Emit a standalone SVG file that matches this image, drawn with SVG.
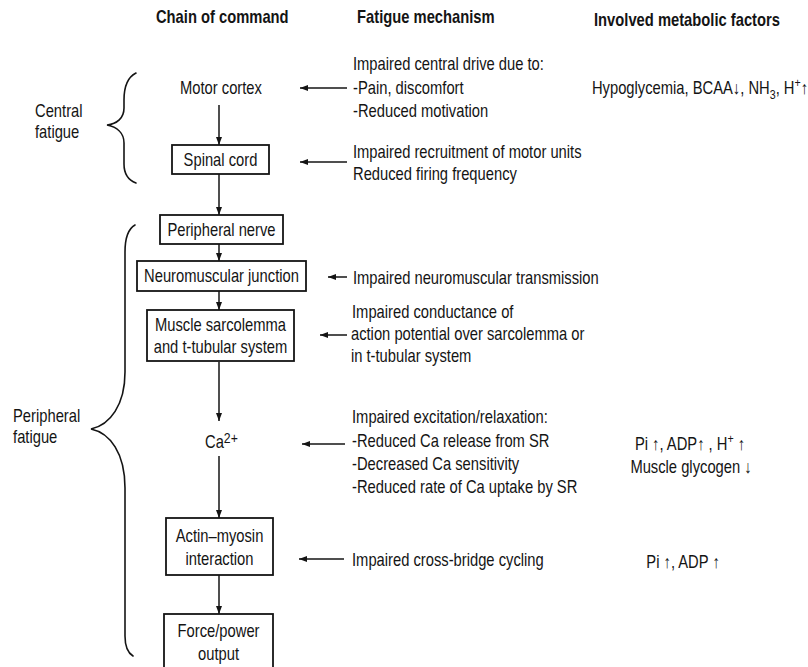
<svg xmlns="http://www.w3.org/2000/svg" width="808" height="667" viewBox="0 0 808 667">
<defs>
<style>
text{font-family:"Liberation Sans",Arial,Helvetica,sans-serif;font-size:18px;fill:#141414}
.h{font-weight:bold}
.m{text-anchor:middle}
.box{fill:#fff;stroke:#141414;stroke-width:1.8}
.ln{stroke:#141414;stroke-width:1.5;fill:none;marker-end:url(#ah)}
.br{fill:none;stroke:#141414;stroke-width:1.6;stroke-linecap:round}
</style>
<marker id="ah" markerUnits="userSpaceOnUse" markerWidth="9" markerHeight="7" refX="8" refY="3.5" orient="auto"><path d="M0,0.5 L8,3.5 L0,6.5 z" fill="#141414"/></marker>
</defs>
<rect width="808" height="667" fill="#fff"/>

<g id="headers">
<text class="h" transform="scale(0.82 1)" x="190.2" y="23">Chain of command</text>
<text class="h" transform="scale(0.82 1)" x="435.4" y="23">Fatigue mechanism</text>
<text class="h" transform="scale(0.82 1)" x="724.4" y="26">Involved metabolic factors</text>
</g>

<g id="connectors">
<line class="ln" x1="219" y1="105" x2="219" y2="145"/>
<line class="ln" x1="219" y1="174" x2="219" y2="215"/>
<line class="ln" x1="219" y1="244" x2="219" y2="261"/>
<line class="ln" x1="219" y1="291" x2="219" y2="310"/>
<line class="ln" x1="219" y1="362" x2="219" y2="421"/>
<line class="ln" x1="219" y1="456" x2="219" y2="518"/>
<line class="ln" x1="219" y1="575" x2="219" y2="614"/>
<line class="ln" x1="347" y1="88" x2="300" y2="88"/>
<line class="ln" x1="347" y1="162" x2="300" y2="162"/>
<line class="ln" x1="347" y1="277" x2="328" y2="277"/>
<line class="ln" x1="347" y1="335" x2="320" y2="335"/>
<line class="ln" x1="345" y1="444" x2="302" y2="444"/>
<line class="ln" x1="344" y1="559" x2="299" y2="559"/>
</g>

<g id="central-fatigue">
<path class="br" d="M136,73 C128,77 124,86 124,100 L124,108 C124,118 117,124 107,125 C117,127 124,133 124,143 L124,164 C124,174 128,180 136,183"/>
<text transform="scale(0.82 1)" x="42.7" y="117">Central</text>
<text transform="scale(0.82 1)" x="42.7" y="138">fatigue</text>
</g>

<g id="peripheral-fatigue">
<path class="br" d="M135,225 C128,229 125,237 125,252 L125,372 C125,405 110,425 91,429 C110,433 125,453 125,488 L125,636 C125,648 128,653 133,656"/>
<text transform="scale(0.82 1)" x="15.9" y="422">Peripheral</text>
<text transform="scale(0.82 1)" x="15.9" y="443">fatigue</text>
</g>

<g id="motor-cortex">
<text class="m" transform="scale(0.82 1)" x="269.5" y="94">Motor cortex</text>
</g>

<g id="spinal-cord">
<rect class="box" x="172" y="145" width="97" height="29"/>
<text class="m" transform="scale(0.82 1)" x="268.9" y="166">Spinal cord</text>
</g>

<g id="peripheral-nerve">
<rect class="box" x="160" y="215" width="123" height="29"/>
<text class="m" transform="scale(0.82 1)" x="270.1" y="236">Peripheral nerve</text>
</g>

<g id="neuromuscular-junction">
<rect class="box" x="137" y="261" width="169" height="30"/>
<text class="m" transform="scale(0.82 1)" x="270.1" y="282">Neuromuscular junction</text>
</g>

<g id="sarcolemma">
<rect class="box" x="147" y="310" width="147" height="51"/>
<text class="m" transform="scale(0.82 1)" x="268.9" y="331">Muscle sarcolemma</text>
<text class="m" transform="scale(0.82 1)" x="268.9" y="353">and t-tubular system</text>
</g>

<g id="calcium">
<text transform="scale(0.82 1)" x="250" y="448">Ca<tspan font-size="15" dy="-5">2+</tspan></text>
</g>

<g id="actin-myosin">
<rect class="box" x="166" y="518" width="107" height="57"/>
<text class="m" transform="scale(0.82 1)" x="267.7" y="542">Actin–myosin</text>
<text class="m" transform="scale(0.82 1)" x="267.7" y="565">interaction</text>
</g>

<g id="force-output">
<rect class="box" x="164" y="614" width="109" height="80"/>
<text class="m" transform="scale(0.82 1)" x="266.5" y="637">Force/power</text>
<text class="m" transform="scale(0.82 1)" x="266.5" y="660">output</text>
</g>

<g id="mech-central-drive">
<text transform="scale(0.82 1)" x="430.5" y="70">Impaired central drive due to:</text>
<text transform="scale(0.82 1)" x="430.5" y="94">-Pain, discomfort</text>
<text transform="scale(0.82 1)" x="430.5" y="117">-Reduced motivation</text>
</g>

<g id="mech-recruitment">
<text transform="scale(0.82 1)" x="430.5" y="158">Impaired recruitment of motor units</text>
<text transform="scale(0.82 1)" x="430.5" y="180">Reduced firing frequency</text>
</g>

<g id="mech-nm-transmission">
<text transform="scale(0.82 1)" x="430.5" y="284">Impaired neuromuscular transmission</text>
</g>

<g id="mech-conductance">
<text transform="scale(0.82 1)" x="429.3" y="318">Impaired conductance of</text>
<text transform="scale(0.82 1)" x="428" y="340">action potential over sarcolemma or</text>
<text transform="scale(0.82 1)" x="428" y="362">in t-tubular system</text>
</g>

<g id="mech-excitation">
<text transform="scale(0.82 1)" x="429.3" y="423">Impaired excitation/relaxation:</text>
<text transform="scale(0.82 1)" x="429.3" y="447">-Reduced Ca release from SR</text>
<text transform="scale(0.82 1)" x="429.3" y="470">-Decreased Ca sensitivity</text>
<text transform="scale(0.82 1)" x="429.3" y="493">-Reduced rate of Ca uptake by SR</text>
</g>

<g id="mech-crossbridge">
<text transform="scale(0.82 1)" x="429.3" y="566">Impaired cross-bridge cycling</text>
</g>

<g id="factors-central">
<text transform="scale(0.82 1)" x="721.9" y="94">Hypoglycemia, BCAA↓, NH<tspan font-size="13" dy="5">3</tspan><tspan dy="-5">, H</tspan><tspan font-size="13" dy="-7">+</tspan><tspan dy="7">↑</tspan></text>
</g>

<g id="factors-excitation">
<text class="m" transform="scale(0.82 1)" x="841.5" y="450">Pi ↑, ADP↑ , H<tspan font-size="13" dy="-7">+</tspan><tspan dy="7"> ↑</tspan></text>
<text class="m" transform="scale(0.82 1)" x="842.7" y="473">Muscle glycogen ↓</text>
</g>

<g id="factors-crossbridge">
<text class="m" transform="scale(0.82 1)" x="833" y="568">Pi ↑, ADP ↑</text>
</g>
</svg>
